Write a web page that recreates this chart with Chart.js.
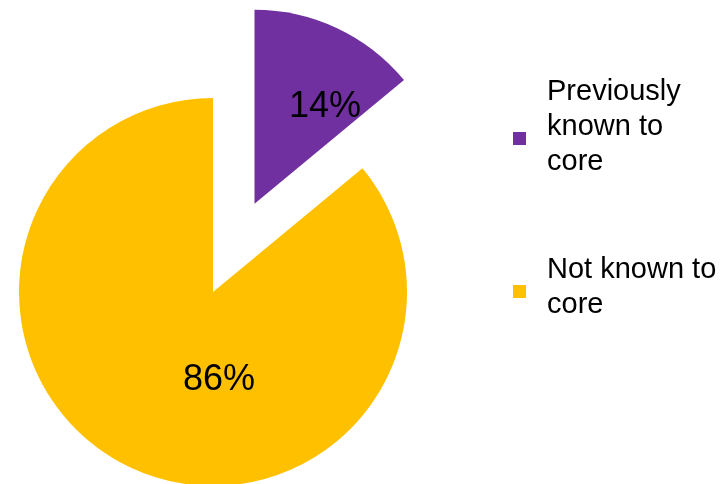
<!DOCTYPE html>
<html>
<head>
<meta charset="utf-8">
<script src="https://cdn.jsdelivr.net/npm/chart.js@4.4.1/dist/chart.umd.min.js"></script>
<style>
    body { margin: 0; background: #fff; }
    #wrap { position: relative; width: 723px; height: 484px; }
    #legend { position: absolute; left: 0; top: 0; font-family: "Liberation Sans", Arial, sans-serif; font-size: 29px; line-height: 34.7px; color: #000; }
    .item-box { position: absolute; left: 513px; width: 13px; height: 13px; }
    .item-text { position: absolute; left: 547px; white-space: nowrap; }
</style>
</head>
<body>
<div id="wrap">
    <canvas id="pieChart"></canvas>
    <div id="legend"></div>
</div>
<script>
// categories (one line per array entry) and shares in percent
const categories = [['Previously', 'known to', 'core'], ['Not known to', 'core']];
const shares = [14, 86];
const sliceColors = ['#7030A0', '#FFC000'];

// pull slices out along their middle angle
const explodePlugin = {
    id: 'explode',
    afterDatasetUpdate: function (chart, args, opts) {
        args.meta.data.forEach(function (arc, i) {
            var d = opts.distance[i] || 0;
            if (!d) return;
            var mid = (arc.startAngle + arc.endAngle) / 2;
            arc.x += Math.cos(mid) * d;
            arc.y += Math.sin(mid) * d;
        });
    }
};

// percent labels inside the slices
const percentLabels = {
    id: 'percentLabels',
    afterDatasetsDraw: function (chart, args, opts) {
        var ctx = chart.ctx;
        var meta = chart.getDatasetMeta(0);
        var values = chart.data.datasets[0].data;
        var total = values.reduce(function (a, b) { return a + b; }, 0);
        ctx.save();
        ctx.font = opts.size + 'px ' + opts.family;
        ctx.fillStyle = opts.color;
        ctx.textAlign = 'center';
        ctx.textBaseline = 'alphabetic';
        meta.data.forEach(function (arc, i) {
            var a = (arc.startAngle + arc.endAngle) / 2 + opts.turn[i] * Math.PI / 180;
            var r = arc.outerRadius * opts.radius[i];
            var x = arc.x + Math.cos(a) * r;
            var y = arc.y + Math.sin(a) * r + opts.size * 0.358;
            ctx.fillText(Math.round(values[i] / total * 100) + '%', x, y);
        });
        ctx.restore();
    }
};

var ctxPie = document.getElementById('pieChart').getContext('2d');
var pieChart = new Chart(ctxPie, {
    type: 'pie',
    data: {
        labels: categories,
        datasets: [{
            data: shares,
            backgroundColor: sliceColors,
            borderWidth: 0,
            radius: 194,
            clip: false
        }]
    },
    options: {
        responsive: true,
        maintainAspectRatio: false,
        animation: false,
        events: [],
        layout: {
            padding: { left: 0, right: 297, top: 100, bottom: 0 }
        },
        plugins: {
            legend: { display: false },
            tooltip: { enabled: false },
            explode: { distance: [97.5, 0] },
            percentLabels: {
                size: 36,
                family: '"Liberation Sans", Arial, sans-serif',
                color: '#000',
                turn: [10, -29.3],
                radius: [0.63, 0.438]
            }
        }
    },
    plugins: [explodePlugin, percentLabels]
});

// legend, built from the same categories and colours
var legendTops = [73.4, 251.1];
var boxTops = [132, 285];
var legendEl = document.getElementById('legend');
categories.forEach(function (lines, i) {
    var box = document.createElement('div');
    box.className = 'item-box';
    box.style.top = boxTops[i] + 'px';
    box.style.background = sliceColors[i];
    legendEl.appendChild(box);

    var txt = document.createElement('div');
    txt.className = 'item-text';
    txt.style.top = legendTops[i] + 'px';
    txt.innerHTML = lines.join('<br>');
    legendEl.appendChild(txt);
});
</script>
</body>
</html>
